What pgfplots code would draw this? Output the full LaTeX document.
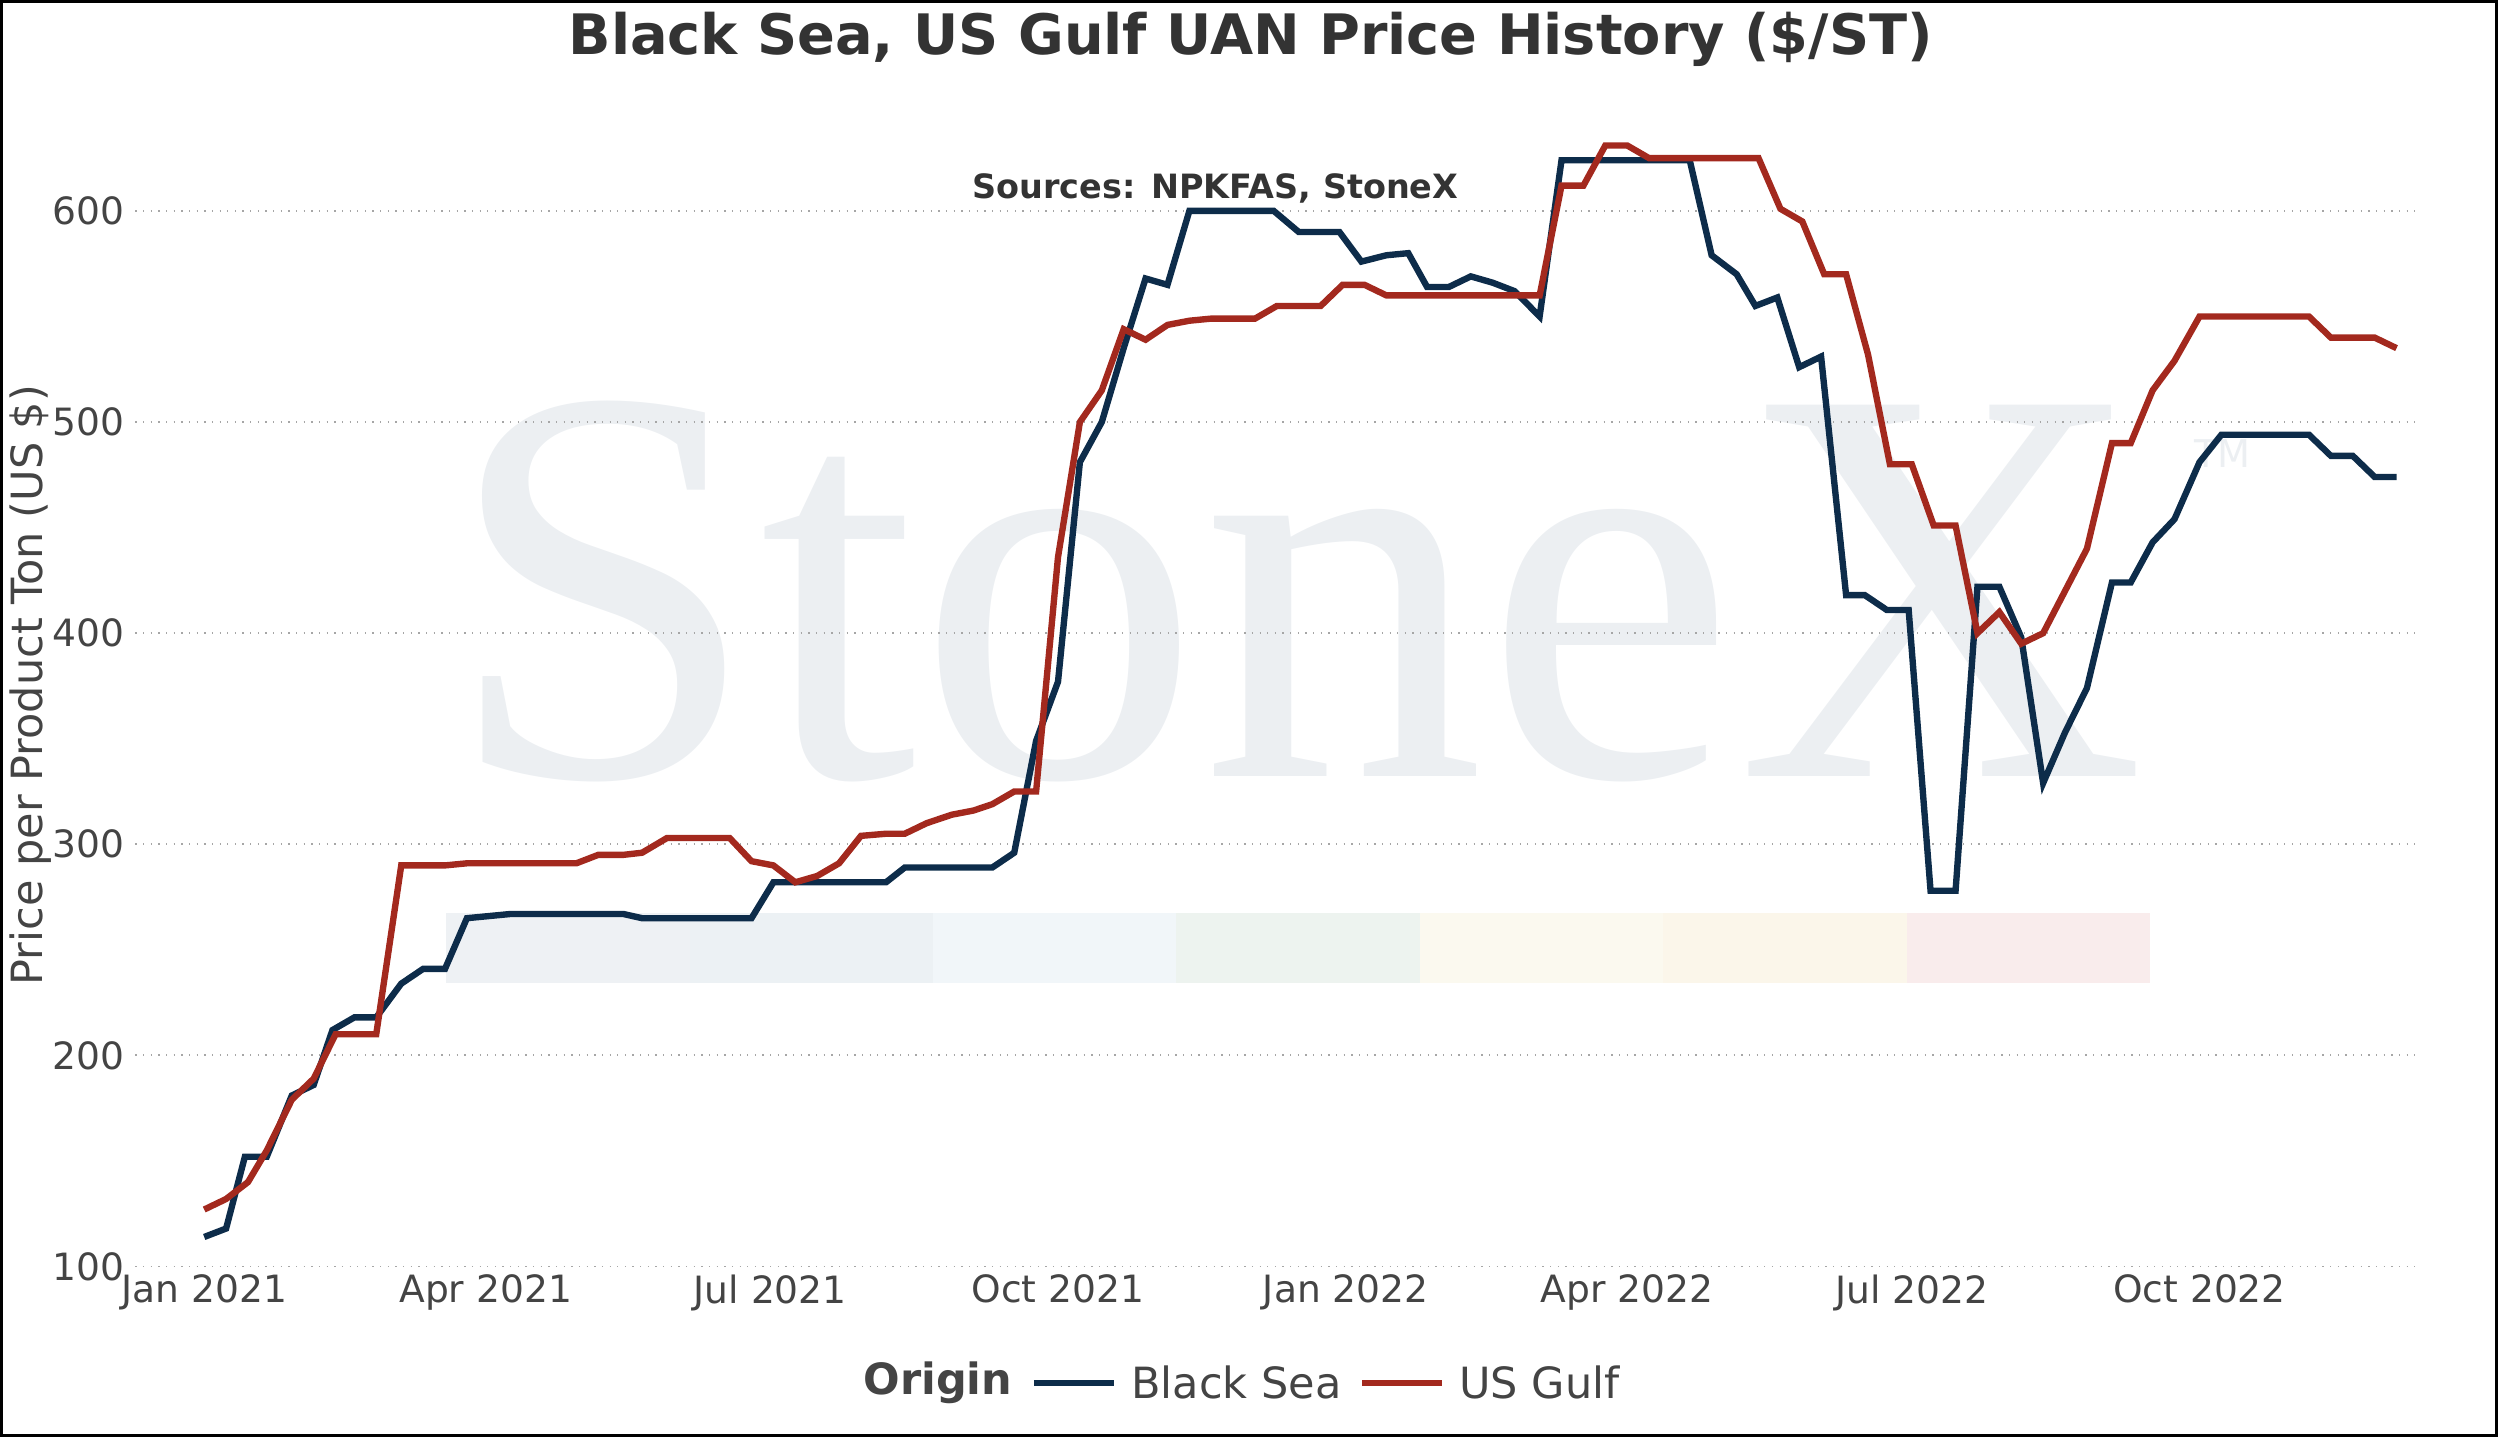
\documentclass[border=0pt]{standalone}
\usepackage{pgfplots}
\pgfplotsset{compat=1.18}
\usepackage{fontspec}
\setmainfont{DejaVu Sans}
\newfontfamily\wmfont{Liberation Serif}
\definecolor{bs}{HTML}{0D2C4A}
\definecolor{usg}{HTML}{A3291E}
\definecolor{txt}{HTML}{444444}
\definecolor{wm}{HTML}{ECEFF2}
\begin{document}
\begin{tikzpicture}
\useasboundingbox (-42.5pt,-53.5pt) rectangle (741.5pt,397.5pt);
\draw[black,line width=0.8pt] (-42pt,-53pt) rectangle (741pt,397pt);
\node[text=wm,font=\wmfont\fontsize{178}{178}\selectfont] at (364pt,212pt) {StoneX};
\node[text=wm,font=\fontsize{12}{12}\selectfont] at (655pt,255pt) {TM};
\foreach \c [count=\i from 0] in {EEF1F4,ECF1F4,F1F6F9,EDF3EF,FBF9EF,FBF6EA,F9ECEC}{
  \definecolor{band}{HTML}{\c}
  \fill[band] (97.5pt+\i*76.4pt,89pt) rectangle (97.5pt+\i*76.4pt+76.4pt,111pt);}
\begin{axis}[at={(0,0)},anchor=south west,scale only axis,width=717.5pt,height=352.5pt,
 xmin=-22,xmax=709,ymin=100,ymax=632,
 axis line style={draw=none},tick style={draw=none},
 xtick={0,90,181,273,365,455,546,638},
 xticklabels={Jan 2021,Apr 2021,Jul 2021,Oct 2021,Jan 2022,Apr 2022,Jul 2022,Oct 2022},
 ytick={100,200,300,400,500,600},
 ymajorgrids,grid style={dotted,gray!70,line width=0.6pt},
 ticklabel style={font=\fontsize{11.8}{13}\selectfont,text=txt},
 /pgf/number format/assume math mode=true,
 xticklabel style={yshift=1pt},
 clip=false]
\addplot[bs,line width=2pt] coordinates {
(0,114)(7,118)(13,152)(20,152)(28,181)(35,186)(41,212)(48,218)(55,218)(63,234)(70,241)(77,241)(84,265)(91,266)(98,267)(134,267)(140,265)(175,265)(182,282)(218,282)(224,289)(252,289)(259,296)(266,349)(273,377)(280,481)(287,500)(294,535)(301,568)(308,565)(315,600)(342,600)(350,590)(363,590)(370,576)(378,579)(385,580)(391,564)(398,564)(405,569)(412,566)(419,562)(427,550)(434,624)(475,624)(482,579)(490,570)(496,555)(503,559)(510,526)(517,531)(525,418)(531,418)(538,411)(545,411)(552,278)(560,278)(567,422)(574,422)(581,398)(588,329)(595,353)(602,374)(610,424)(616,424)(623,443)(630,454)(638,481)(645,494)(673,494)(680,484)(687,484)(694,474)(701,474)};
\addplot[usg,line width=2pt] coordinates {
(0,127)(7,132)(14,140)(20,155)(28,179)(35,189)(42,210)(55,210)(63,290)(77,290)(84,291)(119,291)(126,295)(134,295)(140,296)(148,303)(168,303)(175,292)(182,290)(189,282)(196,285)(203,291)(210,304)(218,305)(224,305)(231,310)(239,314)(246,316)(252,319)(259,325)(266,325)(273,436)(280,500)(287,515)(294,544)(301,539)(308,546)(315,548)(322,549)(336,549)(343,555)(357,555)(364,565)(371,565)(378,560)(427,560)(434,612)(441,612)(448,631)(455,631)(462,625)(497,625)(504,601)(511,595)(518,570)(525,570)(532,532)(539,480)(546,480)(553,451)(560,451)(567,400)(574,410)(581,395)(588,400)(595,420)(602,440)(610,490)(616,490)(623,515)(630,529)(638,550)(673,550)(680,540)(694,540)(701,535)};
\end{axis}
\node[font=\bfseries\fontsize{17.5}{20}\selectfont,text=black!80] at (350pt,385pt) {Black Sea, US Gulf UAN Price History (\$/ST)};
\node[font=\bfseries\fontsize{10.5}{12}\selectfont,text=black!80] at (339pt,338.5pt) {Sources: NPKFAS, StoneX};
\node[rotate=90,font=\fontsize{13.5}{14}\selectfont,text=txt] at (-33pt,182.5pt) {Price per Product Ton (US \$)};
\node[font=\bfseries\fontsize{13.5}{14}\selectfont,text=txt,anchor=west] at (225pt,-36.5pt) {Origin};
\draw[bs,line width=2pt] (282pt,-36.5pt) -- (307pt,-36.5pt);
\node[font=\fontsize{13.5}{14}\selectfont,text=txt,anchor=west] at (309pt,-36.5pt) {Black Sea};
\draw[usg,line width=2pt] (385pt,-36.5pt) -- (410pt,-36.5pt);
\node[font=\fontsize{13.5}{14}\selectfont,text=txt,anchor=west] at (412pt,-36.5pt) {US Gulf};
\end{tikzpicture}
\end{document}
